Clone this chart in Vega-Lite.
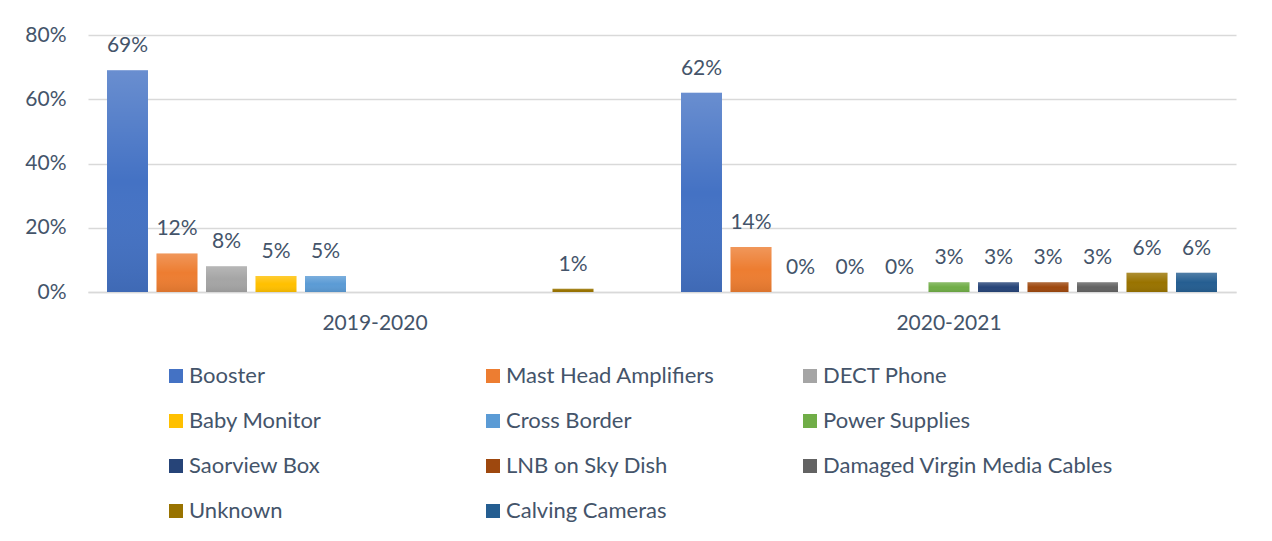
{
  "$schema": "https://vega.github.io/schema/vega-lite/v6.json",
  "width": 1148,
  "height": 257,
  "autosize": "none",
  "padding": {"left": 88, "top": 35, "right": 36, "bottom": 249},
  "background": "white",
  "config": {
    "view": {"stroke": null},
    "font": "Lato",
    "axis": {"labelFont": "Lato", "labelColor": "#44546A", "labelFontSize": 21, "title": null},
    "legend": {"labelFont": "Lato"}
  },
  "data": {
    "values": [
      {"period": "2019-2020", "cause": "Booster", "share": 0.69},
      {"period": "2019-2020", "cause": "Mast Head Amplifiers", "share": 0.12},
      {"period": "2019-2020", "cause": "DECT Phone", "share": 0.08},
      {"period": "2019-2020", "cause": "Baby Monitor", "share": 0.05},
      {"period": "2019-2020", "cause": "Cross Border", "share": 0.05},
      {"period": "2019-2020", "cause": "Unknown", "share": 0.01},
      {"period": "2020-2021", "cause": "Booster", "share": 0.62},
      {"period": "2020-2021", "cause": "Mast Head Amplifiers", "share": 0.14},
      {"period": "2020-2021", "cause": "DECT Phone", "share": 0},
      {"period": "2020-2021", "cause": "Baby Monitor", "share": 0},
      {"period": "2020-2021", "cause": "Cross Border", "share": 0},
      {"period": "2020-2021", "cause": "Power Supplies", "share": 0.03},
      {"period": "2020-2021", "cause": "Saorview Box", "share": 0.03},
      {"period": "2020-2021", "cause": "LNB on Sky Dish", "share": 0.03},
      {"period": "2020-2021", "cause": "Damaged Virgin Media Cables", "share": 0.03},
      {"period": "2020-2021", "cause": "Unknown", "share": 0.06},
      {"period": "2020-2021", "cause": "Calving Cameras", "share": 0.06}
    ]
  },
  "encoding": {
    "x": {
      "field": "period", "type": "nominal",
      "scale": {"paddingInner": 0, "paddingOuter": 0},
      "axis": {"labelAngle": 0, "ticks": false, "domain": true, "domainColor": "#D9D9D9", "domainWidth": 1.5, "labelPadding": 20}
    },
    "xOffset": {
      "field": "cause", "type": "nominal",
      "scale": {
        "domain": ["Booster", "Mast Head Amplifiers", "DECT Phone", "Baby Monitor", "Cross Border", "Power Supplies", "Saorview Box", "LNB on Sky Dish", "Damaged Virgin Media Cables", "Unknown", "Calving Cameras"],
        "paddingInner": 0.172, "paddingOuter": 0.384
      }
    },
    "y": {
      "field": "share", "type": "quantitative",
      "scale": {"domain": [0, 0.8]},
      "axis": {"format": ".0%", "values": [0, 0.2, 0.4, 0.6, 0.8], "ticks": false, "domain": false, "labelPadding": 22, "gridColor": "#D9D9D9", "gridWidth": 1.5}
    }
  },
  "layer": [
    {
      "mark": {"type": "bar"},
      "encoding": {
        "color": {
          "field": "cause", "type": "nominal",
          "scale": {
            "domain": ["Booster", "Mast Head Amplifiers", "DECT Phone", "Baby Monitor", "Cross Border", "Power Supplies", "Saorview Box", "LNB on Sky Dish", "Damaged Virgin Media Cables", "Unknown", "Calving Cameras"],
            "range": ["#4472C4", "#ED7D31", "#A5A5A5", "#FFC000", "#5B9BD5", "#70AD47", "#264478", "#9E480E", "#636363", "#997300", "#255E91"]
          },
          "legend": {
            "title": null, "orient": "none", "legendX": 77, "legendY": 330, "direction": "horizontal",
            "columns": 3, "gridAlign": "all", "columnPadding": 3, "rowPadding": 23,
            "symbolType": "square", "symbolSize": 196, "symbolStrokeWidth": 0, "symbolOpacity": 1,
            "labelFontSize": 22, "labelColor": "#44546A", "labelOffset": 2, "labelLimit": 400
          }
        }
      }
    },
    {
      "mark": {
        "type": "bar",
        "color": {"gradient": "linear", "x1": 0, "y1": 0, "x2": 0, "y2": 1, "stops": [{"offset": 0, "color": "rgba(255,255,255,0.2)"}, {"offset": 0.5, "color": "rgba(255,255,255,0)"}, {"offset": 1, "color": "rgba(0,0,0,0.08)"}]}
      }
    },
    {
      "mark": {"type": "text", "dy": -18, "baseline": "alphabetic", "fontSize": 21, "color": "#44546A"},
      "encoding": {"text": {"field": "share", "type": "quantitative", "format": ".0%"}}
    }
  ]
}
